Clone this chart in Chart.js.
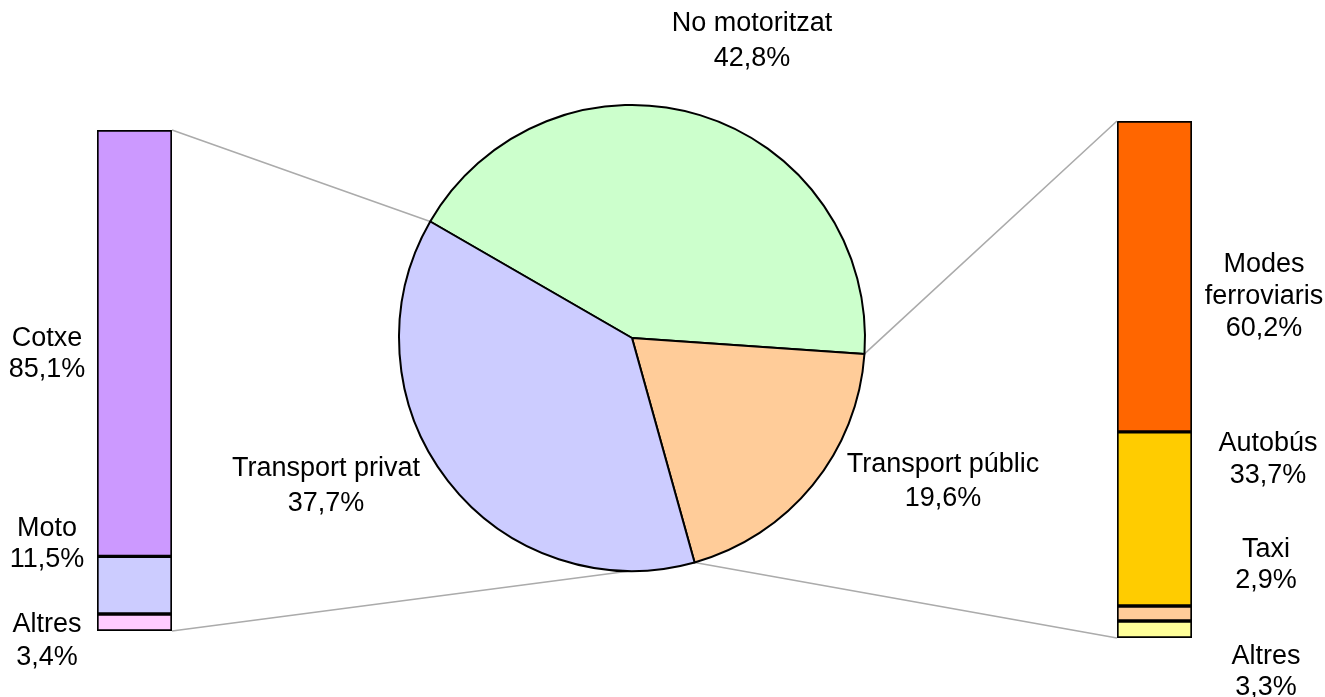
<!DOCTYPE html>
<html>
<head>
<meta charset="utf-8">
<script src="https://cdn.jsdelivr.net/npm/chart.js@4.4.1/dist/chart.umd.min.js"></script>
<style>
	html, body { margin: 0; padding: 0; background: #ffffff; }
	#wrap { position: relative; width: 1325px; height: 697px; overflow: hidden; }
	#wrap canvas { position: absolute; left: 0; top: 0; }
</style>
</head>
<body>
<div id="wrap">
	<canvas id="leftBar" width="1325" height="697"></canvas>
	<canvas id="rightBar" width="1325" height="697"></canvas>
	<canvas id="pieChart" width="1325" height="697"></canvas>
</div>
<script>
const pieLabels = ['No motoritzat', 'Transport públic', 'Transport privat']
const pieValues = [42.8, 19.6, 37.7]
const pieColors = ['#CCFFCC', '#FFCC99', '#CCCCFF']

const privatLabels = ['Cotxe', 'Moto', 'Altres']
const privatValues = [85.1, 11.5, 3.4]
const privatColors = ['#CC99FF', '#CCCCFF', '#FFCCFF']

const publicLabels = ['Modes ferroviaris', 'Autobús', 'Taxi', 'Altres']
const publicValues = [60.2, 33.7, 2.9, 3.3]
const publicColors = ['#FF6600', '#FFCC00', '#FFCC99', '#FFFF99']

const FONT = '27px "Liberation Sans", Arial, sans-serif'
const pct = v => v.toFixed(1).replace('.', ',') + '%'

// where the text blocks sit (x = centre, y = first baseline)
const pieSpots = [
	{ x: 752, y: 31, lh: 35 },
	{ x: 943, y: 472, lh: 34 },
	{ x: 326, y: 476, lh: 35 }
]
const privatSpots = [
	{ x: 47, y: 346, lh: 31 },
	{ x: 47, y: 536, lh: 31 },
	{ x: 47, y: 632, lh: 33 }
]
const publicSpots = [
	{ x: 1264, y: 272, lh: 32, wrap: true },
	{ x: 1268, y: 451, lh: 32 },
	{ x: 1266, y: 557, lh: 31 },
	{ x: 1266, y: 664, lh: 31 }
]

function barChart(id, labels, values, colors, padding) {
	// stack bottom-up: last label sits at the bottom
	const datasets = labels.map((name, i) => ({
		label: name,
		data: [values[i]],
		backgroundColor: colors[i],
		borderColor: '#000000',
		borderWidth: 2,
		borderSkipped: false,
		barPercentage: 1,
		categoryPercentage: 1
	})).reverse()
	const total = values.reduce((a, b) => a + b, 0)
	return new Chart(document.getElementById(id), {
		type: 'bar',
		data: { labels: [''], datasets },
		options: {
			responsive: false,
			animation: false,
			layout: { padding },
			scales: {
				x: { display: false, stacked: true },
				y: { display: false, stacked: true, min: 0, max: total }
			},
			plugins: { legend: { display: false }, tooltip: { enabled: false } }
		}
	})
}

const leftChart = barChart('leftBar', privatLabels, privatValues, privatColors,
	{ left: 97, right: 1153, top: 130, bottom: 66 })
const rightChart = barChart('rightBar', publicLabels, publicValues, publicColors,
	{ left: 1117, right: 133, top: 121, bottom: 59 })

function barBox(chart) {
	const metas = chart.getSortedVisibleDatasetMetas()
	const top = metas[metas.length - 1].data[0]
	const half = top.width / 2
	return {
		left: top.x - half,
		right: top.x + half,
		top: top.y,
		bottom: chart.scales.y.getPixelForValue(0)
	}
}

function writeLines(ctx, lines, spot) {
	lines.forEach((t, i) => ctx.fillText(t, spot.x, spot.y + i * spot.lh))
}

const connectors = {
	id: 'connectors',
	beforeDatasetsDraw(chart) {
		const arcs = chart.getDatasetMeta(0).data
		const edge = a => {
			const arc = arcs[0]
			return { x: arc.x + Math.cos(a) * arc.outerRadius, y: arc.y + Math.sin(a) * arc.outerRadius }
		}
		const greenStart = edge(arcs[0].startAngle)
		const greenEnd = edge(arcs[0].endAngle)
		const orangeEnd = edge(arcs[1].endAngle)
		const lb = barBox(leftChart)
		const rb = barBox(rightChart)
		const ctx = chart.ctx
		ctx.save()
		ctx.strokeStyle = '#ABABAB'
		ctx.lineWidth = 1.6
		ctx.beginPath()
		ctx.moveTo(lb.right, lb.top); ctx.lineTo(greenStart.x, greenStart.y)
		ctx.moveTo(lb.right, lb.bottom); ctx.lineTo(orangeEnd.x, orangeEnd.y)
		ctx.moveTo(rb.left, rb.top); ctx.lineTo(greenEnd.x, greenEnd.y)
		ctx.moveTo(rb.left, rb.bottom); ctx.lineTo(orangeEnd.x, orangeEnd.y)
		ctx.stroke()
		ctx.restore()
	},
	afterDraw(chart) {
		const ctx = chart.ctx
		ctx.save()
		ctx.font = FONT
		ctx.fillStyle = '#000000'
		ctx.textAlign = 'center'
		ctx.textBaseline = 'alphabetic'
		pieLabels.forEach((name, i) => writeLines(ctx, [name, pct(pieValues[i])], pieSpots[i]))
		privatLabels.forEach((name, i) => writeLines(ctx, [name, pct(privatValues[i])], privatSpots[i]))
		publicLabels.forEach((name, i) => {
			const spot = publicSpots[i]
			const words = spot.wrap ? name.split(' ') : [name]
			writeLines(ctx, [...words, pct(publicValues[i])], spot)
		})
		ctx.restore()
	}
}

new Chart(document.getElementById('pieChart'), {
	type: 'pie',
	data: {
		labels: pieLabels,
		datasets: [{
			data: pieValues,
			backgroundColor: pieColors,
			borderColor: '#000000',
			borderWidth: 2
		}]
	},
	options: {
		responsive: false,
		animation: false,
		rotation: -60,
		layout: { padding: { left: 398, right: 459, top: 104, bottom: 125 } },
		plugins: { legend: { display: false }, tooltip: { enabled: false } }
	},
	plugins: [connectors]
})
</script>
</body>
</html>
